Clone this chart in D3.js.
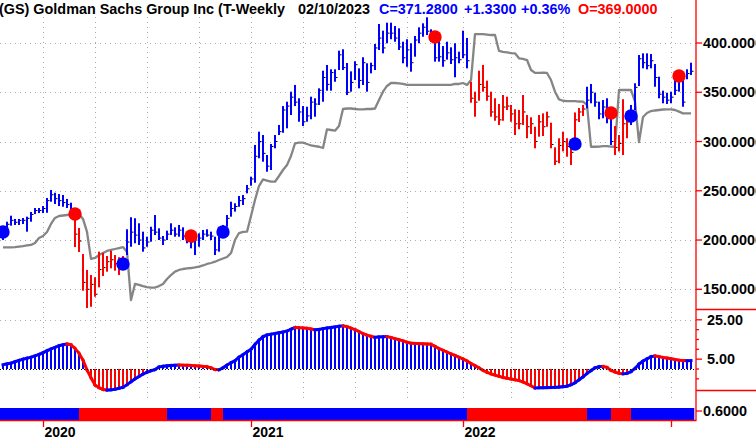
<!DOCTYPE html>
<html><head><meta charset="utf-8">
<script src="https://cdn.jsdelivr.net/npm/d3@7"></script>
<style>body{margin:0;background:#fff}svg{display:block;font-family:"Liberation Sans",Arial,sans-serif;font-weight:bold}</style>
</head><body><svg id="c" width="756" height="439"></svg>
<script>
// ---------- DATA ----------
const startDate = "2019-10-25", endDate = "2023-02-10";   // weekly bars (Fridays)
const highs = [214.3,218.6,224.7,221.4,221.4,222.4,223.7,228.5,232.5,232.5,
234.5,242.7,250.8,248.0,246.7,245.7,241.7,237.9,222.4,212.2,
185.8,169.6,164.5,162.2,188.2,187.1,183.8,189.2,184.8,182.5,
183.8,210.9,223.1,222.1,217.0,208.5,203.4,213.5,225.4,211.9,
204.1,209.5,217.0,212.9,215.3,212.9,208.5,207.1,203.4,206.8,
210.2,210.9,208.5,203.4,213.5,215.3,225.4,238.9,237.3,244.7,
245.7,255.9,264.3,296.5,310.0,306.6,286.3,297.5,306.6,316.8,
336.0,340.4,350.6,357.4,343.9,336.0,335.3,345.5,343.9,354.0,
371.9,377.7,373.3,373.3,392.2,393.6,379.7,371.2,381.5,374.3,
385.5,379.4,380.0,399.0,419.3,412.5,420.6,420.6,417.2,414.9,
401.3,403.8,399.7,407.1,415.9,420.0,426.1,413.9,408.1,404.8,
396.9,401.3,395.6,399.7,391.2,412.5,405.1,360.7,350.6,371.9,
377.7,361.8,350.6,343.9,338.1,347.2,345.5,337.1,332.7,332.0,
347.2,326.9,324.6,315.0,326.9,328.6,330.3,319.1,294.1,303.3,
310.0,303.3,301.5,329.5,334.0,337.1,355.6,358.4,349.5,340.4,
342.1,343.9,330.3,315.7,306.6,342.9,325.2,337.1,359.1,387.8,
389.5,389.5,388.8,378.7,365.8,351.6,349.5,350.6,370.9,372.6,
365.2,373.3,380.0];
const lows = [200.0,205.1,214.6,215.3,215.3,216.3,208.5,218.6,226.4,227.4,
227.4,227.7,238.9,236.6,234.5,233.8,232.5,227.1,192.9,187.9,
148.6,131.0,132.3,142.5,152.0,163.5,167.9,171.3,168.9,164.5,
169.6,184.8,193.2,196.7,195.0,188.2,193.2,198.3,205.1,200.0,
195.0,200.0,205.1,203.4,203.4,200.0,196.7,191.6,184.8,193.2,
200.0,203.4,200.0,184.8,188.2,203.4,213.5,223.7,228.9,233.8,
235.6,247.4,255.2,258.2,283.0,279.5,269.4,271.1,293.1,306.6,
308.9,313.4,326.9,336.0,320.1,315.7,320.1,322.6,325.2,337.1,
340.4,351.6,351.6,360.7,372.6,372.6,347.2,350.6,362.4,354.0,
357.4,350.6,369.2,372.6,392.9,389.5,399.7,403.8,401.3,392.9,
379.4,375.9,370.9,386.1,399.7,406.4,408.1,401.3,381.1,381.1,
375.9,383.1,378.7,365.2,379.4,384.5,374.3,339.4,325.2,341.4,
350.6,341.4,325.2,321.1,316.8,321.1,332.0,320.1,306.6,312.4,
316.8,303.3,307.6,293.1,304.9,305.6,315.0,293.1,276.2,277.9,
290.0,284.6,276.2,298.5,319.8,325.9,333.7,338.8,335.3,322.6,
323.6,318.5,296.5,286.3,289.9,286.3,303.3,316.8,332.0,356.3,
374.3,373.3,374.3,355.6,343.9,338.8,338.1,338.8,347.2,350.6,
335.3,363.2,367.5];
const closes = [210,216,220,218,220,220,222,226,230,230,
232,240,246,242,240,238,236,232,206,199,
157,150,155,145,170,172,178,180,176,172,
180,198,208,205,200,192,198,210,208,202,
200,206,210,206,210,204,201,198,200,202,
206,205,204,190,205,212,222,232,234,240,
242,252,262,285,300,288,275,295,300,310,
332,336,345,340,330,320,326,340,338,352,
365,358,370,365,388,375,350,360,378,362,
380,360,377,395,405,395,410,410,405,396,
385,393,380,403,410,416,412,405,385,386,
382,390,383,385,383,388,382,344,340,358,
355,346,330,325,322,335,336,328,318,318,
330,315,318,300,320,315,325,297,280,296,
300,295,289,322,330,333,342,350,340,328,
335,330,300,294,298,318,320,330,355,384,
380,377,382,365,348,345,342,345,352,368,
340,369,371.28];
const stopLine = [192.6,192.6,192.6,192.9,193.4,193.9,194.5,195.0,197.0,202.1,
204.1,208.2,216.3,222.4,224.4,224.9,225.4,225.9,226.4,226.4,
221.4,208.2,180.8,181.8,184.8,186.8,188.9,189.9,190.9,191.9,
192.9,187.9,139.1,155.4,154.4,153.3,152.3,151.6,151.8,153.3,
155.4,160.4,164.5,167.9,169.6,170.6,171.3,171.6,172.3,173.1,
174.2,175.7,176.7,178.0,179.7,181.3,182.8,186.8,200.0,207.1,
208.2,208.5,224.4,240.6,254.8,261.6,260.4,259.2,259.2,265.0,
271.1,276.2,285.3,298.2,298.8,298.8,297.5,296.0,295.4,294.7,
293.4,312.4,311.7,311.0,315.7,333.0,333.5,333.5,333.0,332.7,
332.7,333.0,333.0,333.5,342.1,350.6,356.4,359.4,359.4,359.1,
358.4,357.4,357.4,357.4,357.4,357.4,357.4,357.4,357.4,357.4,
357.4,357.4,357.4,358.4,358.4,359.4,357.4,362.4,409.1,409.1,
409.1,408.6,408.1,408.1,391.9,390.9,390.4,389.8,389.5,384.5,
383.8,382.7,372.6,369.6,369.6,369.9,369.6,362.4,350.6,342.8,
341.4,341.1,341.1,341.1,340.6,340.4,337.1,294.7,294.7,294.9,
295.4,295.4,294.9,294.7,352.3,352.3,352.3,352.3,340.4,299.5,
324.9,328.9,330.9,331.5,332.0,332.5,332.7,332.7,332.0,330.3,
328.6,328.6,328.6];
const histValues = [2.2,2.6,3.0,3.7,4.4,5.0,5.5,6.0,6.7,7.4,
8.3,9.3,10.2,11.0,11.8,12.3,12.7,12.3,10.5,8.0,
4.5,-0.5,-4.5,-8.1,-9.5,-10.4,-10.7,-10.6,-10.3,-9.8,
-9.3,-8.0,-6.5,-5.0,-3.8,-2.6,-1.7,-0.9,-0.3,1.0,
1.4,1.6,1.8,1.9,2.0,1.95,1.9,1.8,1.6,1.5,
1.3,1.2,0.6,-0.3,-0.4,0.6,2.0,3.2,4.2,6.0,
7.3,8.7,10.0,12.5,14.7,16.4,17.3,17.7,18.0,18.4,
18.8,19.3,20.2,21.1,21.0,20.9,20.7,20.3,19.9,20.1,
20.5,20.8,21.1,21.4,21.7,21.9,21.5,20.8,20.0,19.0,
18.0,17.2,16.6,16.1,16.3,16.4,16.45,16.0,15.4,14.9,
14.3,13.6,13.1,13.0,12.9,12.8,12.7,12.6,11.5,10.4,
9.5,8.6,7.7,6.9,6.0,5.1,4.1,2.8,1.7,0.6,
-0.7,-1.7,-2.5,-3.1,-3.7,-4.3,-4.7,-5.1,-5.5,-5.9,
-6.6,-7.5,-8.5,-9.6,-9.55,-9.5,-9.45,-9.4,-9.35,-9.2,
-9.0,-8.7,-8.0,-7.0,-5.5,-4.0,-2.3,-0.8,0.6,1.2,
1.3,0.8,-0.7,-1.5,-2.2,-2.5,-2.2,-1.4,0.3,2.5,
4.0,5.2,6.2,6.6,6.3,5.9,5.6,5.2,4.8,4.5,
4.3,4.2,4.3];
const barColorStarts = ["2019-10-25","2020-02-28","2020-05-29","2022-01-21","2022-08-12","2022-09-30","2022-10-28"];
const barColorStates = ["up","down","up","down","up","down","up"];
const stripStarts = ["2019-10-25","2020-03-13","2020-08-14","2020-10-30","2020-11-20","2022-01-21","2022-08-19","2022-09-30","2022-11-04"];
const stripStates = ["up","down","up","down","up","down","up","down","up"];
const dotDates  = ["2019-10-25","2020-02-28","2020-05-22","2020-09-18","2020-11-13","2021-11-19","2022-07-22","2022-09-23","2022-10-28","2023-01-20"];
const dotPrices = [208.2,226.4,175.7,204.1,208.2,406.1,297.5,329.0,325.9,366.5];
const dotStates = ["up","down","up","down","up","down","up","down","up","down"];
const priceTicks = [150,200,250,300,350,400];
const priceTickLabels = ["150.0000","200.0000","250.0000","300.0000","350.0000","400.0000"];
const histTicks = [25,5];
const histTickLabels = ["25.00","5.00"];
const histMinorTicks = [20,15,10,0,-5];
const stripTickLabel = "0.6000";
const yearTickDates = ["2020-01-03","2021-01-01","2022-01-07","2023-01-06"];
const yearTickLabels = ["2020","2021","2022",""];
const titleText = "(GS) Goldman Sachs Group Inc (T-Weekly";
const titleDate = "02/10/2023";
const quoteParts = ["C=371.2800","+1.3300","+0.36%","O=369.0000"];
const quoteStates = ["up","up","up","down"];

// ---------- SETUP ----------
const COL = {up:"#0000ff", down:"#ff0000"};
const AX = "#ff0000";
const FS = 14.4;
const svg = d3.select("#c");
const iso = d3.utcFormat("%Y-%m-%d");
const parse = d3.utcParse("%Y-%m-%d");
const dates = d3.utcFriday.range(parse(startDate), d3.utcDay.offset(parse(endDate),1));
const keys = dates.map(iso);
const idx = k => keys.indexOf(k);
const N = dates.length;

const x = d3.scalePoint().domain(d3.range(N)).range([3, 691]);
const yP = d3.scaleLinear().domain([150,400]).range([289.3,43]);
const yH = d3.scaleLinear().domain([0,25]).range([369,319.8]);
const plotR = 696;

function stateAt(starts, states, i){
  let s = states[0];
  starts.forEach((d,k)=>{ if (idx(d) <= i) s = states[k]; });
  return s;
}

// ---------- GRID ----------
const grid = svg.append("g").attr("stroke","#aaaaaa").attr("stroke-width",1).attr("stroke-dasharray","1,4");
priceTicks.forEach(v=>{
  grid.append("line").attr("x1",0).attr("x2",plotR).attr("y1",Math.round(yP(v))+0.5).attr("y2",Math.round(yP(v))+0.5);
});
grid.append("line").attr("x1",0).attr("x2",plotR).attr("y1",Math.round(yH(25))+0.5).attr("y2",Math.round(yH(25))+0.5);
const quarterIdx = d3.range(1,N).filter(i => dates[i].getUTCMonth()%3===0 && dates[i].getUTCMonth()!==dates[i-1].getUTCMonth());
quarterIdx.forEach(i=>{
  const xx = Math.round(x(i))+0.5;
  grid.append("line").attr("x1",xx).attr("x2",xx).attr("y1",17).attr("y2",402);
});

// ---------- PRICE PANEL ----------
const line = d3.line().x((d,i)=>x(i)).y(d=>yP(d));
svg.append("path").datum(stopLine).attr("d",line).attr("fill","none")
  .attr("stroke","#858585").attr("stroke-width",2.3).attr("stroke-linejoin","round");

const bars = svg.append("g");
d3.range(N).forEach(i=>{
  const c = COL[stateAt(barColorStarts, barColorStates, i)];
  const xi = x(i);
  bars.append("rect").attr("x",xi-1).attr("width",2)
    .attr("y",yP(highs[i])).attr("height",Math.max(1,yP(lows[i])-yP(highs[i]))).attr("fill",c);
  bars.append("rect").attr("x",xi+1).attr("width",1.5)
    .attr("y",yP(closes[i])-0.5).attr("height",1).attr("fill","#000");
});

const dots = svg.append("g");
dotDates.forEach((d,k)=>{
  dots.append("circle").attr("cx",x(idx(d))).attr("cy",yP(dotPrices[k])).attr("r",6.7).attr("fill",COL[dotStates[k]]);
});

// ---------- HISTOGRAM PANEL ----------
const hg = svg.append("g");
histValues.forEach((v,i)=>{
  const y0 = yH(0), y1 = yH(v);
  hg.append("rect").attr("x",x(i)-1).attr("width",2)
    .attr("y",Math.min(y0,y1)).attr("height",Math.max(0.5,Math.abs(y1-y0)))
    .attr("fill", v>=0 ? COL.up : COL.down);
});
svg.append("line").attr("x1",0).attr("x2",plotR).attr("y1",369.5).attr("y2",369.5)
  .attr("stroke","#000").attr("stroke-width",1).attr("stroke-dasharray","1,2");
for (let i=1;i<N;i++){
  const up = histValues[i] >= histValues[i-1];
  hg.append("line").attr("x1",x(i-1)).attr("x2",x(i))
    .attr("y1",yH(histValues[i-1])).attr("y2",yH(histValues[i]))
    .attr("stroke", up?COL.up:COL.down).attr("stroke-width",3).attr("stroke-linecap","square");
}

// ---------- STATE STRIP ----------
const sg = svg.append("g");
d3.range(N).forEach(i=>{
  const c = COL[stateAt(stripStarts, stripStates, i)];
  const x0 = i===0 ? 0 : x(i)-4;
  const x1 = i===N-1 ? x(i)+3 : x(i);
  sg.append("rect").attr("x",x0).attr("width",x1-x0+0.3).attr("y",408).attr("height",12).attr("fill",c);
});

// ---------- AXES ----------
const ax = svg.append("g").attr("stroke",AX).attr("stroke-width",1.3);
ax.append("line").attr("x1",plotR).attr("x2",plotR).attr("y1",0).attr("y2",421);
ax.append("line").attr("x1",0).attr("x2",plotR).attr("y1",420.5).attr("y2",420.5);
ax.append("line").attr("x1",plotR).attr("x2",756).attr("y1",309.5).attr("y2",309.5);
ax.append("line").attr("x1",plotR).attr("x2",756).attr("y1",390.5).attr("y2",390.5);

const lab = svg.append("g").attr("font-size",FS).attr("fill","#000");
priceTicks.forEach((v,k)=>{
  ax.append("line").attr("x1",plotR).attr("x2",plotR+6).attr("y1",yP(v)).attr("y2",yP(v));
  lab.append("text").attr("x",703).attr("y",yP(v)).attr("dy","0.36em").text(priceTickLabels[k]);
});
histTicks.forEach((v,k)=>{
  ax.append("line").attr("x1",plotR).attr("x2",plotR+6).attr("y1",yH(v)).attr("y2",yH(v));
  lab.append("text").attr("x",707).attr("y",yH(v)).attr("dy","0.36em").text(histTickLabels[k]);
});
histMinorTicks.forEach(v=>{
  ax.append("line").attr("x1",plotR).attr("x2",plotR+3).attr("y1",yH(v)).attr("y2",yH(v));
});
ax.append("line").attr("x1",plotR).attr("x2",plotR+6).attr("y1",411).attr("y2",411);
lab.append("text").attr("x",703).attr("y",411).attr("dy","0.36em").text(stripTickLabel);

yearTickDates.forEach((d,k)=>{
  const xx = Math.round(x(idx(d)))+0.5;
  ax.append("line").attr("x1",xx).attr("x2",xx).attr("y1",420).attr("y2",427);
  svg.append("text").attr("x",xx+1).attr("y",437).attr("font-size",14).attr("fill","#000").text(yearTickLabels[k]);
});

// ---------- TITLE ----------
const tg = svg.append("g").attr("font-size",FS);
tg.append("text").attr("x",-1).attr("y",14).attr("fill","#000").text(titleText);
tg.append("text").attr("x",298).attr("y",14).attr("fill","#000").text(titleDate);
const qx = [379,464,521,578];
quoteParts.forEach((t,k)=>{
  tg.append("text").attr("x",qx[k]).attr("y",14).attr("fill",COL[quoteStates[k]]).text(t);
});
</script></body></html>
